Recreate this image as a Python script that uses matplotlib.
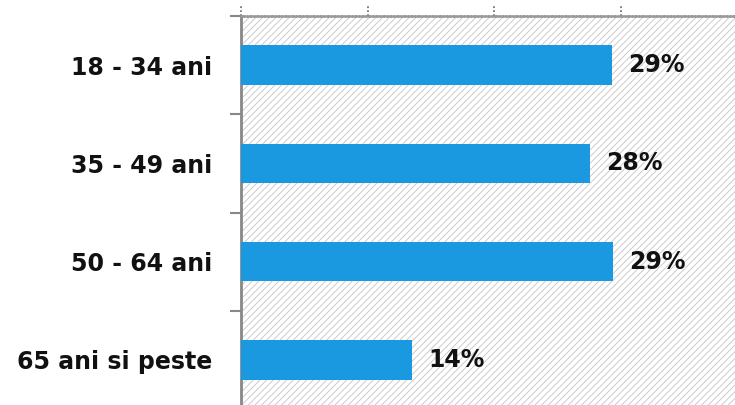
import matplotlib.pyplot as plt
from matplotlib.ticker import FixedLocator

# Date
categorii = ["18 - 34 ani", "35 - 49 ani", "50 - 64 ani", "65 ani si peste"]
valori = [29.3, 27.6, 29.4, 13.5]
etichete = ["29%", "28%", "29%", "14%"]

plt.rcParams["hatch.linewidth"] = 0.6

fig = plt.figure(figsize=(7.35, 4.05), dpi=100)
ax = fig.add_axes([241/735, -4/405, 506/735, 393/405])

# fundal hasurat
ax.patch.set_facecolor("white")
ax.patch.set_hatch("/////")
ax.patch.set_edgecolor("#c4c4c4")

y = list(range(len(categorii)))
ax.barh(y, valori, height=0.4, color="#1a98e0", zorder=3)

for yi, v, t in zip(y, valori, etichete):
    ax.text(v + 1.3, yi, t, va="center", ha="left", fontsize=17,
            fontweight="bold", color="#111111", zorder=4)

ax.set_xlim(0, 40)
ax.set_ylim(3.5, -0.5)

ax.set_yticks(y)
ax.set_yticklabels(categorii, fontsize=17, fontweight="bold", color="#111111")
ax.tick_params(axis="y", which="major", length=0, pad=21)
ax.yaxis.set_minor_locator(FixedLocator([-0.5, 0.5, 1.5, 2.5]))
ax.tick_params(axis="y", which="minor", length=8, width=1.5, color="#888888")

ax.set_xticks([])
trans = ax.get_xaxis_transform()
for xt in [0, 10, 20, 30]:
    ax.plot([xt, xt], [1.0, 1.0 + 10/393], transform=trans, clip_on=False,
            color="#777777", lw=1.3, linestyle=(0, (1, 1.2)))

for s in ["right", "bottom"]:
    ax.spines[s].set_visible(False)
ax.spines["left"].set_color("#888888")
ax.spines["left"].set_linewidth(2)
ax.spines["top"].set_color("#999999")
ax.spines["top"].set_linewidth(1.8)
ax.spines["top"].set_linestyle((0, (0.7, 0.7)))

fig.savefig("out.png", dpi=100)
